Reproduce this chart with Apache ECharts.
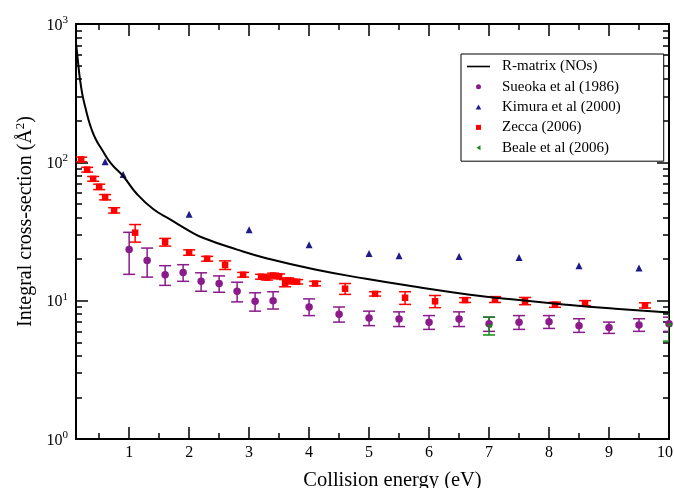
<!DOCTYPE html>
<html>
<head>
<meta charset="utf-8">
<script src="https://cdn.jsdelivr.net/npm/echarts@6/dist/echarts.min.js"></script>
<style>
  html, body { margin: 0; padding: 0; background: #fff; }
  #chart { width: 674px; height: 488px; }
</style>
</head>
<body>
<div id="chart"></div>
<script>
// R-matrix (NOs) curve
const rmatE  = [0.114, 0.15, 0.18, 0.22, 0.264, 0.32, 0.376, 0.45, 0.54, 0.7, 0.905, 1.13, 1.4, 1.69, 2.0, 2.24, 2.8, 3.3, 4.1, 4.95, 5.78, 6.65, 7.5, 8.3, 9.1, 10]
const rmatCS = [730, 520, 400, 310, 255, 205, 172, 145, 125, 98, 79, 59, 46, 38.5, 32, 28.4, 23.4, 20.2, 16.8, 14.4, 12.6, 11.1, 10.1, 9.35, 8.75, 8.2]

// Sueoka et al (1986)
const sueokaE  = [1.0, 1.3, 1.6, 1.9, 2.2, 2.5, 2.8, 3.1, 3.4, 4.0, 4.5, 5.0, 5.5, 6.0, 6.5, 7.0, 7.5, 8.0, 8.5, 9.0, 9.5, 10.0]
const sueokaCS = [23.4, 19.5, 15.4, 16.0, 13.8, 13.3, 11.7, 9.9, 10.0, 9.0, 7.96, 7.5, 7.37, 6.97, 7.37, 6.82, 6.97, 7.05, 6.6, 6.41, 6.67, 6.82]
const sueokaLo = [15.5, 14.8, 12.9, 13.8, 11.7, 11.5, 9.8, 8.4, 8.7, 7.8, 7.0, 6.6, 6.5, 6.2, 6.5, 6.0, 6.2, 6.3, 5.9, 5.8, 6.0, 6.0]
const sueokaHi = [31.2, 24.0, 17.9, 18.2, 15.9, 15.1, 13.6, 11.4, 11.6, 10.3, 9.0, 8.4, 8.3, 7.8, 8.3, 7.6, 7.8, 7.8, 7.4, 7.0, 7.4, 7.6]

// Kimura et al (2000)
const kimuraE  = [0.6, 0.9, 2, 3, 4, 5, 5.5, 6.5, 7.5, 8.5, 9.5]
const kimuraCS = [101, 81.5, 42.1, 32.6, 25.4, 21.9, 21.1, 20.9, 20.5, 17.9, 17.2]

// Zecca (2006)
const zeccaE   = [0.2, 0.3, 0.4, 0.5, 0.6, 0.75, 1.1, 1.6, 2.0, 2.3, 2.6, 2.9, 3.2, 3.3, 3.4, 3.5, 3.6, 3.65, 3.7, 3.8, 4.1, 4.6, 5.1, 5.6, 6.1, 6.6, 7.1, 7.6, 8.1, 8.6, 9.6]
const zeccaCS  = [105, 88.5, 76, 66.5, 56, 45, 31, 26.5, 22.3, 20.1, 18.1, 15.4, 14.9, 14.7, 15.2, 15.0, 13.4, 14.0, 13.8, 13.7, 13.3, 12.2, 11.2, 10.5, 9.9, 10.1, 10.2, 9.95, 9.35, 9.6, 9.25]
const zeccaErr = [4, 3.5, 3, 3, 2.5, 2, 4.5, 1.7, 1, 0.8, 1.3, 0.6, 0.6, 0.6, 0.6, 0.6, 0.8, 0.6, 0.5, 0.5, 0.5, 1.1, 0.4, 1.1, 1.0, 0.4, 0.5, 0.6, 0.4, 0.4, 0.4]

// Beale et al (2006)
const bealeE  = [7, 10]
const bealeCS = [6.6, 6.7]
const bealeLo = [5.65, 5.1]
const bealeHi = [7.6, 8.3]

// axis ticks
const xMajor = [1, 2, 3, 4, 5, 6, 7, 8, 9, 10]
const xMinor = [0.5, 1.5, 2.5, 3.5, 4.5, 5.5, 6.5, 7.5, 8.5, 9.5]
const yMajor = [1, 10, 100, 1000]
const yMinor = [2, 3, 4, 5, 6, 7, 8, 9, 20, 30, 40, 50, 60, 70, 80, 90, 200, 300, 400, 500, 600, 700, 800, 900]

const FONT = 'Liberation Serif'
const PURPLE = '#8b1a8b'
const NAVY = '#1f1a8a'
const RED = '#ff0000'
const GREEN = '#118a11'

const zip = (a, b) => a.map((v, i) => [v, b[i]])

function errorBars (color, half) {
  return function (params, api) {
    const x = api.value(0)
    const top = api.coord([x, api.value(2)])
    const bot = api.coord([x, api.value(1)])
    const st = { stroke: color, lineWidth: 1.5 }
    return {
      type: 'group',
      children: [
        { type: 'line', shape: { x1: top[0], y1: top[1], x2: bot[0], y2: bot[1] }, style: st },
        { type: 'line', shape: { x1: top[0] - half, y1: top[1], x2: top[0] + half, y2: top[1] }, style: st },
        { type: 'line', shape: { x1: bot[0] - half, y1: bot[1], x2: bot[0] + half, y2: bot[1] }, style: st }
      ]
    }
  }
}

const supRich = {
  b: { fontFamily: FONT, fontSize: 16, color: '#000', verticalAlign: 'bottom' },
  s: { fontFamily: FONT, fontSize: 11, color: '#000', verticalAlign: 'bottom', padding: [0, 0, 8, 0] }
}

function xAx (position, values, len, main) {
  return {
    type: 'value', min: 0.114, max: 10, position: position,
    axisLine: { show: main, onZero: false, lineStyle: { color: '#000', width: 2 } },
    axisTick: { show: true, inside: true, length: len, customValues: values, lineStyle: { color: '#000', width: 1.5 } },
    axisLabel: {
      show: main && position === 'bottom', customValues: xMajor, margin: 6,
      fontFamily: FONT, fontSize: 16, color: '#000',
      // last label sits a little inside the frame, as in the original
      formatter: v => v === 10 ? '{r|10}' : String(v),
      rich: { r: { fontFamily: FONT, fontSize: 16, color: '#000', padding: [0, 8, 0, 0] } }
    },
    splitLine: { show: false }
  }
}
function yAx (position, values, len, main) {
  return {
    type: 'log', logBase: 10, min: 1, max: 1000, position: position,
    axisLine: { show: main, onZero: false, lineStyle: { color: '#000', width: 2 } },
    axisTick: { show: true, inside: true, length: len, customValues: values, lineStyle: { color: '#000', width: 1.5 } },
    axisLabel: {
      show: main && position === 'left', customValues: yMajor, margin: 8,
      formatter: v => '{b|10}{s|' + Math.round(Math.log10(v)) + '}',
      rich: supRich
    },
    splitLine: { show: false }
  }
}

const xAxes = [xAx('bottom', xMajor, 12, true), xAx('bottom', xMinor, 6, false), xAx('top', xMajor, 12, true), xAx('top', xMinor, 6, false)]
xAxes[0].name = 'Collision energy (eV)'
xAxes[0].nameLocation = 'middle'
xAxes[0].nameGap = 31
xAxes[0].nameTextStyle = { fontFamily: FONT, fontSize: 20.5, color: '#000', padding: [0, 0, 0, 40] }

const yAxes = [yAx('left', yMajor, 12, true), yAx('left', yMinor, 6, false), yAx('right', yMajor, 12, true), yAx('right', yMinor, 6, false)]
yAxes[0].name = 'Integral cross-section (Å{s|2})'
yAxes[0].nameLocation = 'middle'
yAxes[0].nameGap = 38
yAxes[0].nameTextStyle = {
  fontFamily: FONT, fontSize: 20, color: '#000', padding: [0, 0, 0, 20],
  rich: {
    s: { fontFamily: FONT, fontSize: 13, color: '#000', padding: [0, 0, 10, 0] }
  }
}

const chart = echarts.init(document.getElementById('chart'), null, { renderer: 'canvas' })
chart.setOption({
  animation: false,
  backgroundColor: '#fff',
  grid: { left: 76, right: 5, top: 24, bottom: 49, outerBoundsMode: 'none', containLabel: false },
  xAxis: xAxes,
  yAxis: yAxes,
  legend: {
    left: 461, top: 54, orient: 'vertical',
    backgroundColor: '#fff', borderColor: '#000', borderWidth: 1, borderRadius: 0,
    padding: [5, 43, 6, 6],
    itemWidth: 23, itemHeight: 5, itemGap: 5.3,
    textStyle: { fontFamily: FONT, fontSize: 15, color: '#000', lineHeight: 15, padding: [0, 0, 0, 7] },
    data: [
      { name: 'R-matrix (NOs)', icon: 'path://M0,0H23V1.6H0Z' },
      { name: 'Sueoka et al (1986)', icon: 'circle' },
      { name: 'Kimura et al (2000)', icon: 'path://M0,10L5.5,0L11,10Z' },
      { name: 'Zecca (2006)', icon: 'path://M0,0H10V10H0Z' },
      { name: 'Beale et al (2006)', icon: 'path://M0,5L8,0L8,10Z' }
    ]
  },
  series: [
    {
      type: 'custom', name: 'zeccaErr', clip: true, silent: true,
      renderItem: errorBars(RED, 6),
      encode: { x: 0, y: [1, 2] },
      data: zeccaE.map((e, i) => [e, zeccaCS[i] - zeccaErr[i], zeccaCS[i] + zeccaErr[i]])
    },
    {
      type: 'custom', name: 'sueokaErr', clip: true, silent: true,
      renderItem: errorBars(PURPLE, 6),
      encode: { x: 0, y: [1, 2] },
      data: sueokaE.map((e, i) => [e, sueokaLo[i], sueokaHi[i]])
    },
    {
      type: 'custom', name: 'bealeErr', clip: true, silent: true,
      renderItem: errorBars(GREEN, 6),
      encode: { x: 0, y: [1, 2] },
      data: bealeE.map((e, i) => [e, bealeLo[i], bealeHi[i]])
    },
    {
      type: 'line', name: 'R-matrix (NOs)', data: zip(rmatE, rmatCS),
      smooth: true, showSymbol: false, symbol: 'none',
      lineStyle: { color: '#000', width: 2 }, itemStyle: { color: '#000' }
    },
    {
      type: 'scatter', name: 'Sueoka et al (1986)', data: zip(sueokaE, sueokaCS),
      symbol: 'circle', symbolSize: 7.5, itemStyle: { color: PURPLE, opacity: 1 }
    },
    {
      type: 'scatter', name: 'Kimura et al (2000)', data: zip(kimuraE, kimuraCS),
      symbol: 'triangle', symbolSize: 7, itemStyle: { color: NAVY, opacity: 1 }
    },
    {
      type: 'scatter', name: 'Zecca (2006)', data: zip(zeccaE, zeccaCS),
      symbol: 'rect', symbolSize: 6.5, itemStyle: { color: RED, opacity: 1 }
    },
    {
      type: 'scatter', name: 'Beale et al (2006)', data: zip(bealeE, bealeCS),
      symbol: 'path://M0,5L8,0L8,10Z', symbolSize: 5, itemStyle: { color: GREEN, opacity: 1 }
    }
  ]
})
</script>
</body>
</html>
